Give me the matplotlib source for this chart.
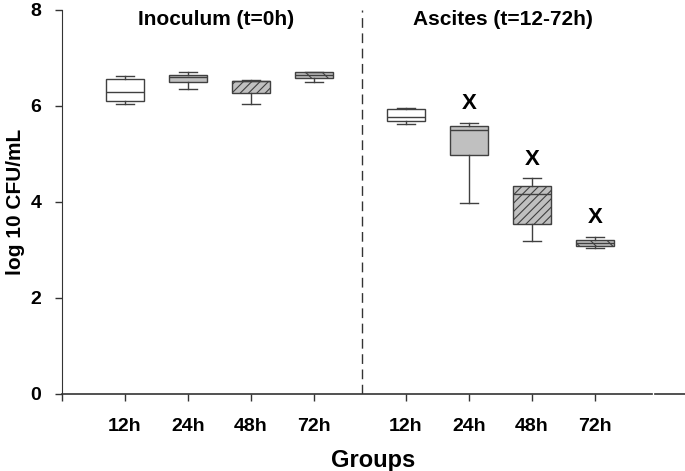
import matplotlib
matplotlib.use('Agg')
import matplotlib.pyplot as plt

plt.rcParams['font.family'] = ['Liberation Sans', 'DejaVu Sans']
plt.rcParams['hatch.color'] = '#404040'
plt.rcParams['hatch.linewidth'] = 0.8

# box stats: (whislo, q1, med, q3, whishi)
groups = ['12h', '24h', '48h', '72h', '12h', '24h', '48h', '72h']
whislo = [6.05, 6.35, 6.04, 6.51, 5.62, 3.97, 3.19, 3.04]
q1 = [6.11, 6.49, 6.28, 6.58, 5.68, 4.98, 3.55, 3.08]
med = [6.29, 6.60, 6.52, 6.65, 5.78, 5.49, 4.16, 3.14]
q3 = [6.57, 6.65, 6.53, 6.70, 5.93, 5.58, 4.34, 3.20]
whishi = [6.63, 6.71, 6.55, 6.71, 5.96, 5.65, 4.49, 3.28]
signif = [False, False, False, False, False, True, True, True]

FILLS = ['white', '#c0c0c0', '#c0c0c0', '#c0c0c0'] * 2
HATCHES = ['', '', '////', '\\\\'] * 2
EDGE = '#404040'

positions = [1, 2, 3, 4, 5.46, 6.46, 7.46, 8.46]

fig = plt.figure(figsize=(6.85, 4.71), dpi=100)
ax = fig.add_axes([62 / 685, 77 / 471, 623 / 685, 384 / 471])

stats = []
for i in range(len(groups)):
    stats.append({'whislo': whislo[i], 'q1': q1[i], 'med': med[i],
                  'q3': q3[i], 'whishi': whishi[i], 'fliers': []})

bp = ax.bxp(stats, positions=positions, widths=0.59, patch_artist=True,
            boxprops=dict(edgecolor=EDGE, linewidth=1.0),
            medianprops=dict(color=EDGE, linewidth=1.0),
            whiskerprops=dict(color=EDGE, linewidth=1.0),
            capprops=dict(color=EDGE, linewidth=1.0),
            capwidths=0.3)
for box, fc, h in zip(bp['boxes'], FILLS, HATCHES):
    box.set_facecolor(fc)
    box.set_hatch(h)

for p, hi, s in zip(positions, whishi, signif):
    if s:
        ax.text(p, hi + 0.18, 'X', ha='center', va='bottom',
                fontsize=16, fontweight='bold')

ax.axvline(4.76, color='#333333', linewidth=1.0, dashes=(7, 4))

ax.set_xlim(0, 623 / 63)
ax.set_ylim(0, 8)
ax.set_yticks([0, 2, 4, 6, 8])
ax.set_xticks([0] + positions)
ax.set_xticklabels([''] + groups)
ax.tick_params(axis='both', direction='out', labelsize=14, width=1.0,
               length=5, color='#333333')
for lab in ax.get_xticklabels() + ax.get_yticklabels():
    lab.set_fontweight('bold')
ax.tick_params(axis='x', pad=12)
ax.tick_params(axis='y', pad=10)

ax.spines['top'].set_visible(False)
ax.spines['right'].set_visible(False)
ax.spines['bottom'].set_visible(False)
ax.spines['left'].set_color('#333333')
ax.axhline(0, xmin=0, xmax=9.37 / (623 / 63), color='#333333', linewidth=1.2, clip_on=False)
ax.axhline(0, xmin=9.42 / (623 / 63), xmax=1, color='#333333', linewidth=1.2, clip_on=False)

ax.set_ylabel('log 10 CFU/mL', fontsize=15, fontweight='bold', va='center')
ax.yaxis.set_label_coords(-0.074, 0.5)
ax.set_xlabel('Groups', fontsize=17, fontweight='bold', labelpad=10)

ax.text(2.44, 7.8, 'Inoculum (t=0h)', ha='center', va='center',
        fontsize=15, fontweight='bold')
ax.text(7.0, 7.8, 'Ascites (t=12-72h)', ha='center', va='center',
        fontsize=15, fontweight='bold')

fig.savefig('out.png', dpi=100)
